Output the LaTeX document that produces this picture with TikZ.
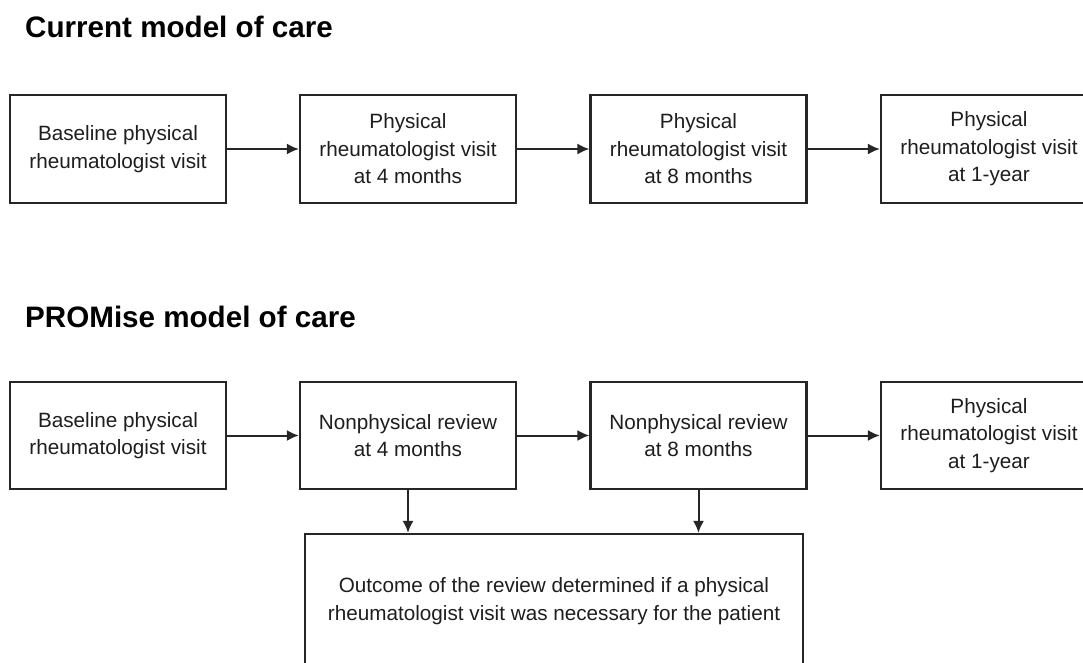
\documentclass[tikz,border=0pt]{standalone}
\usepackage{fontspec}
\setmainfont{Liberation Sans}
\usetikzlibrary{arrows.meta}
\definecolor{ink}{HTML}{1E1E1E}
\definecolor{edge}{HTML}{262626}
\tikzset{
  stepbox/.style={draw=edge, line width=2.2pt, rectangle, minimum width=216pt, minimum height=108pt, inner sep=0pt, align=center, text=ink, font=\fontsize{20.7}{27.5}\selectfont},
  conn/.style={draw=edge, line width=2pt, -{Latex[length=12pt,width=11pt]}},
  title/.style={anchor=base west, inner sep=0pt, text=black, font=\fontsize{29.6}{34}\selectfont\bfseries}
}
\begin{document}
\begin{tikzpicture}[x=1pt,y=-1pt]
\useasboundingbox (0,0) rectangle (1083,662);
\clip (0,0) rectangle (1083,662);
\fill[white] (0,0) rectangle (1083,662);

\node[title] (t1) at (25,37) {Current model of care};
\node[title] (t2) at (25,327) {PROMise model of care};

% Current model
\node[stepbox] (a1) at (118,149) {Baseline physical\\rheumatologist visit};
\node[stepbox] (a2) at (408,149) {Physical\\rheumatologist visit\\at 4 months};
\node[stepbox] (a3) at (698.5,149) {Physical\\rheumatologist visit\\at 8 months};
\node[stepbox] (a4) at (989,149) {Physical\\rheumatologist visit\\at 1-year};
\draw[conn] (a1) -- (a2);
\draw[conn] (a2) -- (a3);
\draw[conn] (a3) -- (a4);

% PROMise model
\node[stepbox, minimum height=107pt] (b1) at (118,435.5) {Baseline physical\\rheumatologist visit};
\node[stepbox, minimum height=107pt] (b2) at (408,435.5) {Nonphysical review\\at 4 months};
\node[stepbox, minimum height=107pt] (b3) at (698.5,435.5) {Nonphysical review\\at 8 months};
\node[stepbox, minimum height=107pt] (b4) at (989,435.5) {Physical\\rheumatologist visit\\at 1-year};
\node[stepbox, minimum width=498pt, minimum height=134pt] (out) at (554,601) {Outcome of the review determined if a physical\\rheumatologist visit was necessary for the patient};
\draw[conn] (b1) -- (b2);
\draw[conn] (b2) -- (b3);
\draw[conn] (b3) -- (b4);
\draw[conn] (b2.south) -- (b2.south |- out.north);
\draw[conn] (b3.south) -- (b3.south |- out.north);
\end{tikzpicture}
\end{document}
